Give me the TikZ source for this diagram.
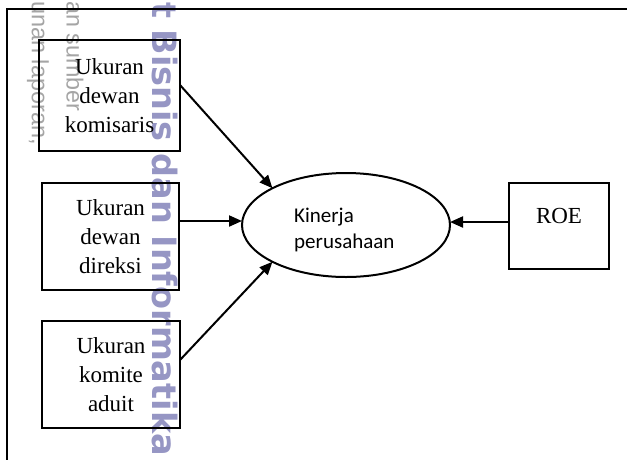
\documentclass[tikz,border=0pt]{standalone}
\usepackage{fontspec}
\setmainfont{Liberation Serif}
\newfontfamily\calfont{Carlito}
\newfontfamily\wmfont{DejaVu Sans}
\newfontfamily\wgfont{Liberation Sans}
\usetikzlibrary{shapes.geometric,arrows.meta}
\definecolor{wmblue}{RGB}{150,150,196}
\definecolor{wmgray}{RGB}{165,165,165}
\begin{document}
\begin{tikzpicture}[x=1pt,y=-1pt,
  box/.style={draw, line width=2pt, align=center, inner sep=0pt, outer sep=0pt, font=\fontsize{23}{29}\selectfont},
  arr/.style={line width=2pt, -{Triangle[length=13pt,width=11pt]}},
  wmark/.style={rotate=-90, inner sep=0pt},
]
\useasboundingbox (0,0) rectangle (627,459);
\clip (0,0) rectangle (627,459);
\fill[white] (0,0) rectangle (627,459);
% watermarks
\node[wmark, text=wmblue, font=\wmfont\bfseries\fontsize{33.5}{33.5}\selectfont] (wm) at (165,229) {t Bisnis dan Informatika};
\node[wmark, anchor=west, text=wmgray, font=\wgfont\fontsize{23.3}{23.3}\selectfont] (g1) at (75,1) {an sumber};
\node[wmark, anchor=west, text=wmgray, font=\wgfont\fontsize{23.5}{23.5}\selectfont] (g2) at (38,1) {unan laporan,};
% frame
\draw[line width=2pt] (7,470) -- (7,9) -- (640,9);
% nodes
\node[box, minimum width=141pt, minimum height=111pt] (b1) at (109.5,95.5) {Ukuran\\dewan\\komisaris};
\node[box, minimum width=137pt, minimum height=107pt] (b2) at (110.5,236.5) {Ukuran\\dewan\\direksi};
\node[box, minimum width=138pt, minimum height=107pt] (b3) at (111,374.5) {Ukuran\\komite\\aduit};
\node[ellipse, draw, line width=2pt, minimum width=208pt, minimum height=104pt, inner sep=0pt, outer sep=0pt] (ell) at (346,225) {};
\node[font=\calfont\fontsize{21}{26}\selectfont, align=left, anchor=west, inner sep=0pt] (kt) at (294,230) {Kinerja\\perusahaan};
\node[draw, line width=2pt, minimum width=100pt, minimum height=86pt, inner sep=0pt, outer sep=0pt] (roe) at (559,226) {};
\node[font=\fontsize{23}{29}\selectfont, inner sep=0pt] (roet) at (559,216) {ROE};
% arrows
\draw[arr] ([yshift=10.5pt]b1.east) -- (ell.north west);
\draw[arr] ([yshift=15.5pt]b2.east) -- ([yshift=4pt]ell.west);
\draw[arr] ([yshift=14.5pt]b3.east) -- (ell.south west);
\draw[arr] ([yshift=4pt]roe.west) -- ([yshift=3pt]ell.east);
\end{tikzpicture}
\end{document}
